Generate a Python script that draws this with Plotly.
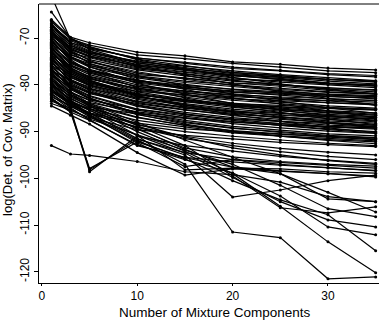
import plotly.graph_objects as go

components = [1, 3, 5, 10, 15, 20, 25, 30, 35]

series_top = [
    [-61.0, -70.3, -71.9, -74.5, -75.9, -77.3, -78.0, -78.8, -79.4],
    [-64.4, -70.0, -72.4, -75.3, -76.7, -77.9, -78.9, -79.7, -80.2],
]

series_dense = [
    [-66.2, -69.8, -71.0, -73.0, -73.8, -75.1, -75.6, -76.4, -76.8],
    [-66.5, -70.2, -71.5, -73.6, -74.4, -75.4, -76.2, -77.0, -77.4],
    [-67.4, -70.5, -72.3, -74.2, -75.4, -76.5, -77.0, -77.8, -78.3],
    [-66.9, -71.2, -72.9, -75.1, -76.0, -77.0, -77.8, -78.5, -79.1],
    [-68.1, -71.5, -73.1, -74.9, -76.3, -77.6, -78.3, -78.9, -79.3],
    [-67.8, -72.2, -73.8, -76.0, -77.2, -78.1, -78.6, -79.6, -80.1],
    [-68.9, -72.4, -74.0, -76.4, -77.3, -78.5, -79.4, -80.0, -80.6],
    [-69.3, -72.9, -74.6, -76.8, -78.1, -79.2, -79.9, -80.8, -81.0],
    [-68.5, -73.4, -75.1, -77.5, -78.6, -79.6, -80.3, -81.2, -81.8],
    [-70.0, -73.6, -75.0, -77.2, -78.8, -80.1, -81.0, -81.6, -82.0],
    [-69.7, -74.1, -75.8, -78.3, -79.5, -80.4, -81.3, -82.1, -82.6],
    [-70.8, -74.3, -76.2, -78.5, -79.9, -81.0, -81.8, -82.4, -83.0],
    [-70.4, -74.9, -76.7, -79.2, -80.3, -81.5, -82.2, -83.0, -83.4],
    [-71.5, -75.2, -76.9, -79.0, -80.7, -81.9, -82.8, -83.5, -84.1],
    [-71.1, -75.7, -77.5, -80.0, -81.4, -82.3, -83.1, -83.8, -84.2],
    [-72.3, -76.0, -77.8, -80.4, -81.6, -82.9, -83.7, -84.5, -85.0],
    [-72.0, -76.4, -78.3, -80.9, -82.3, -83.3, -84.0, -84.8, -85.3],
    [-73.0, -76.8, -78.6, -81.1, -82.6, -83.9, -84.7, -85.5, -86.0],
    [-72.7, -77.3, -79.1, -81.8, -83.2, -84.2, -85.0, -85.7, -86.3],
    [-73.8, -77.5, -79.4, -82.0, -83.6, -84.8, -85.6, -86.3, -86.8],
    [-73.4, -78.0, -80.0, -82.6, -84.0, -85.2, -86.0, -86.8, -87.3],
    [-74.5, -78.3, -80.2, -82.9, -84.4, -85.7, -86.5, -87.1, -87.7],
    [-74.1, -78.8, -80.7, -83.5, -85.0, -86.1, -86.9, -87.7, -88.2],
    [-75.2, -79.0, -81.0, -83.8, -85.3, -86.6, -87.4, -88.0, -88.6],
    [-74.8, -79.5, -81.5, -84.3, -85.9, -87.0, -87.8, -88.6, -89.0],
    [-76.0, -79.8, -81.7, -84.6, -86.2, -87.4, -88.3, -89.0, -89.5],
    [-75.6, -80.3, -82.3, -85.2, -86.7, -87.9, -88.6, -89.4, -90.0],
    [-76.7, -80.5, -82.5, -85.4, -87.1, -88.3, -89.2, -89.9, -90.4],
    [-77.4, -81.0, -83.0, -86.0, -87.6, -88.9, -89.7, -90.5, -90.9],
    [-78.0, -81.5, -83.4, -86.4, -88.1, -89.3, -90.0, -90.8, -91.3],
    [-67.0, -70.9, -72.7, -75.8, -77.9, -79.8, -81.4, -82.9, -84.4],
    [-69.0, -73.0, -75.4, -78.9, -81.0, -82.8, -84.1, -85.6, -87.0],
    [-71.8, -75.0, -77.0, -79.6, -80.8, -81.6, -82.0, -82.5, -82.8],
    [-74.0, -77.0, -78.8, -80.7, -81.8, -82.5, -83.0, -83.4, -83.7],
    [-76.3, -79.3, -80.9, -82.7, -83.6, -84.3, -84.7, -85.1, -85.4],
    [-68.3, -72.6, -74.8, -78.0, -80.2, -82.0, -83.5, -84.9, -86.1],
    [-70.6, -74.6, -77.2, -80.6, -82.8, -84.6, -85.9, -87.3, -88.5],
    [-72.5, -76.6, -79.0, -82.3, -84.6, -86.4, -87.8, -89.2, -90.2],
    [-77.0, -80.0, -81.9, -84.0, -85.4, -86.3, -86.9, -87.4, -87.9],
    [-78.6, -81.7, -83.2, -85.2, -86.4, -87.3, -87.8, -88.3, -88.7],
    [-69.9, -73.1, -74.2, -76.6, -77.6, -78.8, -79.1, -79.8, -80.3],
    [-71.3, -74.0, -75.5, -77.8, -78.5, -79.6, -80.0, -80.6, -81.2],
    [-73.6, -75.9, -77.3, -79.4, -80.5, -81.3, -81.7, -82.2, -82.5],
    [-75.4, -77.9, -79.6, -81.4, -82.1, -83.0, -83.4, -83.9, -84.3],
    [-67.7, -71.0, -72.1, -74.3, -75.2, -76.2, -76.9, -77.6, -78.0],
    [-79.3, -82.6, -84.4, -87.0, -88.6, -89.8, -90.5, -91.2, -91.7],
    [-80.0, -83.0, -84.8, -86.2, -87.2, -88.0, -88.6, -89.0, -89.3],
    [-81.2, -83.9, -85.1, -87.6, -89.0, -90.3, -91.0, -91.7, -92.2],
    [-82.6, -84.4, -86.0, -88.2, -89.4, -90.0, -90.6, -91.0, -91.4],
    [-76.9, -79.1, -80.4, -83.1, -84.9, -85.8, -86.4, -86.9, -87.3],
    [-66.0, -70.0, -71.8, -74.6, -76.6, -78.4, -79.8, -81.0, -82.0],
    [-68.7, -71.9, -73.5, -75.6, -76.8, -77.8, -78.4, -79.2, -79.8],
    [-70.3, -73.9, -76.1, -79.7, -82.0, -84.0, -85.4, -86.6, -87.6],
    [-72.2, -75.4, -77.0, -79.1, -80.1, -80.9, -81.5, -82.0, -82.3],
    [-74.3, -77.6, -79.5, -82.4, -84.2, -85.5, -86.8, -88.0, -89.0],
    [-75.8, -78.4, -80.1, -82.2, -83.3, -84.0, -84.4, -84.9, -85.2],
    [-77.8, -80.6, -82.8, -86.3, -88.4, -89.9, -91.0, -91.9, -92.6],
    [-69.5, -72.5, -73.9, -75.8, -76.9, -78.0, -78.8, -79.6, -80.0],
    [-71.9, -76.3, -78.5, -81.5, -83.1, -84.4, -85.2, -85.9, -86.5],
    [-73.2, -76.5, -78.2, -80.3, -81.3, -82.1, -82.6, -83.0, -83.3],
    [-79.9, -82.4, -83.8, -85.8, -87.0, -87.9, -88.3, -88.9, -89.2],
    [-76.5, -80.8, -82.9, -86.0, -87.9, -89.2, -90.2, -91.0, -91.6],
    [-67.2, -71.6, -73.4, -76.2, -77.7, -79.0, -80.0, -80.9, -81.5],
    [-70.9, -74.1, -75.9, -78.1, -79.2, -80.0, -80.7, -81.5, -81.9],
    [-74.7, -78.0, -79.8, -82.0, -83.4, -84.5, -85.3, -86.0, -86.5],
    [-78.9, -82.0, -84.0, -86.9, -88.7, -90.1, -90.9, -91.5, -92.0],
    [-68.6, -72.0, -73.2, -75.3, -76.5, -77.4, -78.1, -78.8, -79.2],
    [-72.9, -77.1, -79.2, -82.4, -84.3, -85.9, -87.1, -88.2, -89.1],
    [-75.1, -79.1, -81.2, -84.4, -86.3, -87.6, -88.7, -89.6, -90.3],
    [-77.2, -80.2, -81.6, -83.6, -84.7, -85.6, -86.1, -86.6, -87.0],
]

series_lower = [
    [-80.5, -84.0, -86.2, -89.0, -91.0, -92.5, -93.6, -94.4, -95.0],
    [-78.3, -82.3, -84.6, -88.4, -91.2, -93.5, -95.0, -96.2, -97.0],
    [-83.0, -85.5, -87.0, -89.6, -90.8, -91.6, -92.3, -92.8, -93.2],
    [-81.8, -84.9, -87.5, -93.0, -95.5, -96.5, -97.2, -97.8, -98.3],
    [-79.8, -83.2, -86.5, -92.4, -97.5, -96.0, -96.6, -97.2, -97.8],
    [-84.0, -85.4, -98.6, -91.0, -93.0, -94.2, -95.3, -96.1, -96.8],
    [-83.5, -85.0, -98.2, -91.6, -94.5, -96.0, -97.0, -97.7, -98.4],
    [-82.8, -85.8, -97.9, -92.2, -95.6, -97.6, -98.4, -99.0, -99.5],
    [-93.0, -94.8, -95.1, -96.4, -98.6, -99.2, -100.8, -103.9, -105.0],
    [-77.8, -81.4, -84.0, -88.0, -91.8, -95.5, -99.0, -103.0, -107.2],
    [-81.0, -83.6, -85.5, -89.3, -93.8, -97.6, -99.0, -104.4, -105.0],
    [-80.2, -83.8, -86.0, -91.5, -95.0, -104.0, -102.5, -100.5, -99.3],
    [-79.0, -82.0, -84.2, -88.7, -93.0, -99.5, -106.3, -107.4, -106.1],
    [-82.0, -84.6, -86.5, -91.8, -97.0, -111.5, -112.7, -121.5, -121.1],
    [-78.8, -82.8, -85.0, -90.0, -94.2, -99.0, -106.0, -113.6, -120.2],
    [-81.5, -84.2, -86.4, -90.8, -94.6, -99.8, -105.0, -108.9, -110.4],
    [-83.2, -85.8, -87.6, -92.8, -96.0, -98.8, -103.8, -110.4, -112.1],
    [-80.8, -84.5, -86.8, -92.0, -95.8, -100.5, -104.6, -107.8, -115.5],
    [-82.3, -85.2, -87.3, -90.6, -94.0, -97.0, -101.5, -106.5, -108.2],
    [-84.5, -86.5, -88.4, -94.5, -99.3, -98.0, -98.5, -99.0, -99.7],
    [-79.5, -83.5, -85.4, -90.8, -98.2, -97.8, -98.0, -98.6, -98.9],
    [-81.3, -84.0, -86.1, -89.1, -91.5, -93.0, -94.3, -95.3, -96.0],
    [-77.7, -81.6, -84.5, -89.5, -93.5, -95.4, -96.4, -97.0, -97.4],
    [-80.0, -83.4, -85.2, -88.6, -90.0, -91.0, -91.8, -92.5, -93.0],
]

x_ticks = [0, 10, 20, 30]
y_ticks = [-120, -110, -100, -90, -80, -70]

xs, ys = [], []
for s in series_top + series_dense + series_lower:
    xs += components + [None]
    ys += s + [None]

fig = go.Figure()
fig.add_trace(go.Scatter(
    x=xs, y=ys, mode="lines+markers", connectgaps=False,
    line=dict(color="black", width=1.2),
    marker=dict(color="black", size=3),
    hoverinfo="skip", showlegend=False,
))

font = dict(family="Liberation Sans, Arial, sans-serif", color="black")
fig.update_layout(
    width=381, height=320,
    margin=dict(l=39, r=2, t=4, b=37),
    paper_bgcolor="white", plot_bgcolor="white",
    font=dict(size=12, **font),
    xaxis=dict(range=[-0.3, 35.35], tickmode="array", tickvals=x_ticks,
               ticktext=[str(v) for v in x_ticks],
               showgrid=False, zeroline=False, showline=True,
               linecolor="black", linewidth=1, ticks="outside",
               ticklen=2, tickcolor="black", tickfont=dict(size=12, **font)),
    yaxis=dict(range=[-122.4, -62.7], tickmode="array", tickvals=y_ticks,
               ticktext=[str(v) for v in y_ticks], tickangle=-90,
               showgrid=False, zeroline=False, showline=True,
               linecolor="black", linewidth=1, ticks="outside",
               ticklen=4, tickcolor="black", tickfont=dict(size=12, **font)),
    shapes=[dict(type="line", xref="paper", yref="paper", x0=0, x1=1, y0=1, y1=1,
                 line=dict(color="black", width=1))],
    annotations=[
        dict(text="Number of Mixture Components", xref="paper", yref="paper",
             x=0.518, y=0, yshift=-29, showarrow=False, xanchor="center",
             yanchor="middle", font=dict(size=13.5, **font)),
        dict(text="log(Det. of Cov. Matrix)", xref="paper", yref="paper",
             x=0, y=0.477, xshift=-31, showarrow=False, xanchor="center",
             yanchor="middle", textangle=-90, font=dict(size=13, **font)),
    ],
)
fig.write_html("out.html", config={"displayModeBar": False, "staticPlot": True},
               post_script="document.body.style.margin='0px';")
